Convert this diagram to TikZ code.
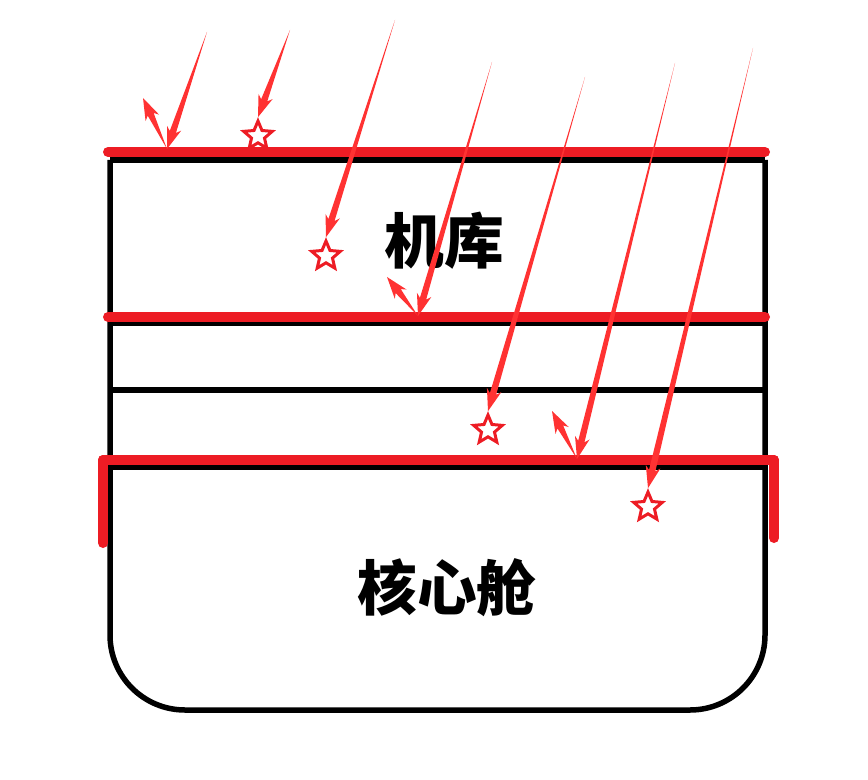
\documentclass[tikz,border=0pt]{standalone}
\usepackage{fontspec}
\newfontfamily\cjk{Noto Sans CJK SC}[BoldFont={Noto Sans CJK SC Black}]
\usetikzlibrary{calc}
\usetikzlibrary{shapes.geometric}

\definecolor{paintred}{RGB}{237,28,36}
\definecolor{rayred}{RGB}{255,50,50}

\newcommand{\ray}[2]{%
\coordinate (rb) at ($(#2)!3.6mm!(#1)$);
\coordinate (rw) at ($(#2)!4.4mm!(#1)$);
\fill[rayred] (#1) -- ($(rb)!.65mm!90:(#1)$) -- ($(rw)!1.5mm!90:(#1)$) -- (#2)
  -- ($(rw)!1.5mm!-90:(#1)$) -- ($(rb)!.65mm!-90:(#1)$) -- cycle;}

\begin{document}
\begin{tikzpicture}[%
%scale=2,
x=0.02cm, y=-0.02cm,
wall/.style={line width=1.1mm, black},
deck/.style={line width=2mm, paintred, line cap=round},
hit/.style={star, star points=5, star point ratio=2.2, minimum size=6mm, inner sep=0pt, draw=paintred, fill=white, line width=.6mm},
label/.style={font=\cjk\bfseries\fontsize{34}{40}\selectfont},
]

\useasboundingbox (0,0) rectangle (868,780);

\pgfmathsetmacro{\bal}{110}
\pgfmathsetmacro{\jobb}{765}

% hull
\draw[wall, rounded corners=1.5cm] (\bal,160)--(\bal,710)--(\jobb,710)--(\jobb,160);
\draw[wall] (\bal,160)--(\jobb,160);
\draw[wall] (\bal,323)--(\jobb,323);
\draw[wall] (\bal,390)--(\jobb,390);
\draw[wall] (\bal,467)--(\jobb,467);

\draw[deck] (108,152)--(\jobb,152);
\draw[deck] (108,317)--(\jobb,317);
\draw[deck] (103,460)--(774,460);
\draw[deck] (103,460)--(103,543);
\draw[deck] (774,460)--(774,538);

\node[label](hangar) at (444,241){机库};
\node[label](core)   at (447,588){核心舱};

\node[hit](s2) at (258,136){};
\node[hit](s3) at (326,256){};
\node[hit](s5) at (488,430){};
\node[hit](s7) at (648,507){};

\coordinate(r1) at (207,32);
\coordinate(r1t) at (167,149);
\coordinate(f1) at (143,98);
\coordinate(r2) at (290,30);
\coordinate(r3) at (395,20);
\coordinate(r4) at (492,62);
\coordinate(r4t) at (418,316);
\coordinate(f4) at (387,277);
\coordinate(r5) at (585,77);
\coordinate(r6) at (675,63);
\coordinate(r6t) at (577,459);
\coordinate(f6) at (552,411);
\coordinate(r7) at (753,48);

\ray{r1}{r1t}
\ray{r1t}{f1}
\ray{r2}{s2.north}
\ray{r3}{s3.north}
\ray{r4}{r4t}
\ray{r4t}{f4}
\ray{r5}{s5.north}
\ray{r6}{r6t}
\ray{r6t}{f6}
\ray{r7}{s7.north}

\end{tikzpicture}
\end{document}
